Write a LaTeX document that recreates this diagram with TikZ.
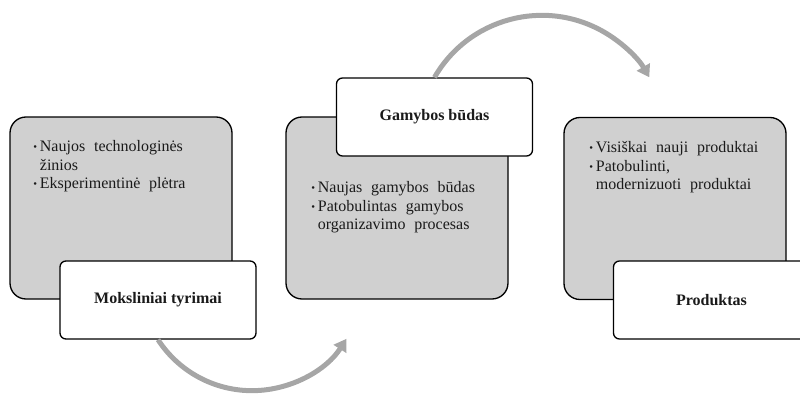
\documentclass[tikz,border=0pt]{standalone}
\usepackage{fontspec}
\setmainfont{Liberation Serif}
\newfontfamily\listfont{Liberation Serif}[WordSpace=2.2]
\usepackage{xcolor}
\usetikzlibrary{arrows.meta}
\definecolor{boxGray}{RGB}{208, 208, 208}
\definecolor{flowGray}{RGB}{166, 166, 166}
\definecolor{txtDark}{RGB}{26, 26, 26}
\newcommand{\bul}{\makebox[5pt][l]{\raisebox{0.6pt}{\footnotesize\textbullet}}}
\newcommand{\hang}{\hspace*{5pt}}

\begin{document}
\begin{tikzpicture}[
    x=0.75pt, y=0.75pt,
    font=\listfont\fontsize{12}{14}\selectfont\color{txtDark},
    back/.style={rectangle, rounded corners=12pt, draw=black, line width=1pt,
        fill=boxGray, minimum width=166.5pt, minimum height=136.5pt},
    lbl/.style={rectangle, rounded corners=4.5pt, draw=black, line width=1pt,
        fill=white, minimum width=147pt, minimum height=58.5pt,
        font=\rmfamily\fontsize{12}{14}\selectfont\bfseries\color{txtDark}},
    lst/.style={anchor=north west, align=left, inner sep=0pt},
    flow/.style={-{Triangle[length=9pt, width=11pt]}, line width=3.75pt, flowGray}
]
\useasboundingbox (0,0) rectangle (800,394);
\clip (0,0) rectangle (800,394);

\node[back] (gb1) at (121,186)   {};
\node[back] (gb2) at (397,186)   {};
\node[back] (gb3) at (675,185.5) {};

\node[lst] (t1) at (33,254)  {\bul Naujos technologinės\\\hang žinios\\\bul Eksperimentinė plėtra};
\node[lst] (t2) at (311,213) {\bul Naujas gamybos būdas\\\bul Patobulintas gamybos\\\hang organizavimo procesas};
\node[lst] (t3) at (589,253) {\bul Visiškai nauji produktai\\\bul Patobulinti,\\\hang modernizuoti produktai};

\node[lbl] (wb1) at (158,94)    {Moksliniai tyrimai};
\node[lbl] (wb2) at (434.5,277) {Gamybos būdas};
\node[lbl] (wb3) at (711.5,94)  {Produktas};

\draw[flow] (wb1.south) arc[start angle=213, end angle=327.5, radius=84pt];
\draw[flow] (wb2.north) arc[start angle=150, end angle=30, radius=93pt];
\end{tikzpicture}
\end{document}
